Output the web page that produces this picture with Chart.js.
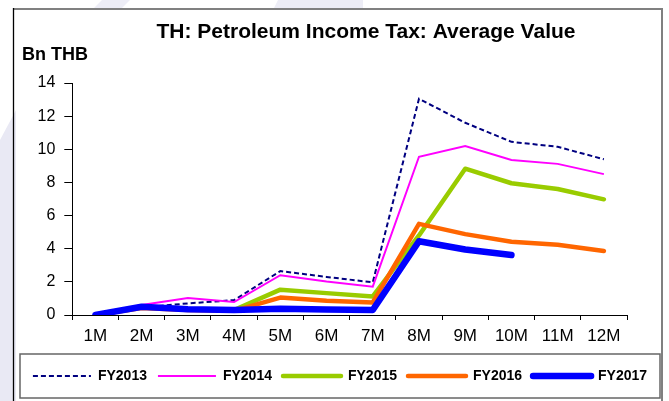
<!DOCTYPE html>
<html>
<head>
<meta charset="utf-8">
<title>TH: Petroleum Income Tax: Average Value</title>
<script src="https://cdn.jsdelivr.net/npm/chart.js@4.4.1/dist/chart.umd.min.js"></script>
<style>
    html, body { margin: 0; padding: 0; background: #ffffff; }
    #wrap { position: relative; width: 669px; height: 401px; }
</style>
</head>
<body>
<div id="wrap"><canvas id="pit" width="669" height="401"></canvas></div>
<script>
// Average monthly value, Bn THB, by fiscal year
const months = ['1M', '2M', '3M', '4M', '5M', '6M', '7M', '8M', '9M', '10M', '11M', '12M'];
const fy2013 = [0, 0.45, 0.7, 0.9, 2.65, 2.3, 1.97, 13.05, 11.6, 10.45, 10.15, 9.4];
const fy2014 = [0, 0.6, 1.03, 0.78, 2.4, 2.02, 1.71, 9.55, 10.2, 9.35, 9.12, 8.5];
const fy2015 = [0, 0.45, 0.35, 0.3, 1.53, 1.32, 1.12, 4.8, 8.83, 7.95, 7.6, 6.98];
const fy2016 = [0, 0.42, 0.3, 0.25, 1.05, 0.86, 0.76, 5.5, 4.88, 4.42, 4.24, 3.86];
const fy2017 = [0, 0.5, 0.35, 0.3, 0.38, 0.33, 0.3, 4.45, 3.95, 3.62, null, null];
const yTicks = [0, 2, 4, 6, 8, 10, 12, 14];

const chartTitle = 'TH: Petroleum Income Tax: Average Value';
const unitLabel = 'Bn THB';
const FONT = 'Arial, "Liberation Sans", sans-serif';

// later fiscal years sit on top of the earlier ones
function lineSet(label, data, color, width, order, dash) {
    return {
        label: label,
        data: data,
        order: order,
        borderColor: color,
        backgroundColor: color,
        borderWidth: width,
        borderDash: dash || [],
        borderCapStyle: width > 3 ? 'round' : 'butt',
        borderJoinStyle: width > 3 ? 'round' : 'miter',
        pointRadius: 0,
        pointHoverRadius: 0,
        pointStyle: 'line',
        tension: 0,
        spanGaps: false
    };
}

// frame, watermark, title and legend box
const framePlugin = {
    id: 'frame',
    beforeDraw(chart) {
        const ctx = chart.ctx;
        ctx.save();
        ctx.fillStyle = '#e9e9f4';
        // left strip with a slanted top edge
        ctx.beginPath();
        ctx.moveTo(0, 140); ctx.lineTo(16, 110); ctx.lineTo(16, 401); ctx.lineTo(0, 401);
        ctx.closePath(); ctx.fill();
        // faint slanted bands above the frame
        ctx.fillStyle = '#ededf6';
        ctx.beginPath();
        ctx.moveTo(92, 10); ctx.lineTo(102, 0); ctx.lineTo(130, 0); ctx.lineTo(120, 10);
        ctx.closePath(); ctx.fill();
        ctx.beginPath();
        ctx.moveTo(273, 10); ctx.lineTo(278, 0); ctx.lineTo(363, 0); ctx.lineTo(363, 10);
        ctx.closePath(); ctx.fill();

        ctx.strokeStyle = '#808080';
        ctx.lineWidth = 2;
        ctx.beginPath();
        ctx.moveTo(13, 9); ctx.lineTo(662, 9); ctx.lineTo(662, 401);
        ctx.stroke();
        ctx.strokeStyle = '#000000';
        ctx.lineWidth = 1.3;
        ctx.beginPath();
        ctx.moveTo(13.5, 8); ctx.lineTo(13.5, 401);
        ctx.stroke();
        ctx.restore();
    },
    afterDraw(chart) {
        const ctx = chart.ctx;
        ctx.save();
        ctx.fillStyle = '#000000';
        ctx.textBaseline = 'alphabetic';
        ctx.font = 'bold 21px ' + FONT;
        ctx.textAlign = 'center';
        ctx.fillText(chartTitle, 366, 38);
        ctx.font = 'bold 18px ' + FONT;
        ctx.textAlign = 'left';
        ctx.fillText(unitLabel, 22, 60);

        const lg = chart.legend;
        ctx.strokeStyle = '#666666';
        ctx.lineWidth = 1.5;
        ctx.strokeRect(lg.left, lg.top - 4, lg.right - lg.left, lg.bottom - lg.top + 9);
        ctx.restore();
    }
};

// legend samples take dash and caps from the line, not from the point
function legendLabels(chart) {
    const items = Chart.defaults.plugins.legend.labels.generateLabels(chart);
    items.forEach(item => {
        const ds = chart.data.datasets[item.datasetIndex];
        item.lineDash = ds.borderDash;
        item.lineCap = ds.borderCapStyle;
        item.lineWidth = ds.borderWidth;
    });
    return items;
}

new Chart(document.getElementById('pit'), {
    type: 'line',
    data: {
        labels: months,
        datasets: [
            lineSet('FY2013', fy2013, '#000080', 2, 5, [5, 3]),
            lineSet('FY2014', fy2014, '#ff00ff', 2, 4),
            lineSet('FY2015', fy2015, '#99cc00', 4.5, 3),
            lineSet('FY2016', fy2016, '#ff6600', 4.5, 2),
            lineSet('FY2017', fy2017, '#0000ff', 6.5, 1)
        ]
    },
    options: {
        responsive: false,
        animation: false,
        devicePixelRatio: 1,
        layout: { padding: { left: 20, right: 9, top: 83, bottom: 8 } },
        plugins: {
            title: { display: false },
            tooltip: { enabled: false },
            legend: {
                display: true,
                position: 'bottom',
                labels: {
                    usePointStyle: true,
                    pointStyleWidth: 58,
                    padding: 11,
                    color: '#000000',
                    font: { family: FONT, size: 14, weight: 'bold' },
                    generateLabels: legendLabels,
                    sort: (a, b) => a.datasetIndex - b.datasetIndex
                }
            }
        },
        scales: {
            x: {
                offset: true,
                grid: {
                    offset: true,
                    drawOnChartArea: false,
                    tickLength: 5,
                    tickColor: '#000000'
                },
                border: { color: '#000000', width: 1 },
                ticks: {
                    color: '#000000',
                    padding: 6,
                    maxRotation: 0,
                    autoSkip: false,
                    font: { family: FONT, size: 17 }
                },
                afterFit(scale) { scale.height = 43; }
            },
            y: {
                min: 0,
                max: 14,
                afterBuildTicks(scale) { scale.ticks = yTicks.map(v => ({ value: v })); },
                grid: {
                    drawOnChartArea: false,
                    tickLength: 8,
                    tickColor: '#000000'
                },
                border: { color: '#000000', width: 1 },
                ticks: {
                    color: '#000000',
                    padding: 9,
                    font: { family: FONT, size: 16 }
                },
                afterFit(scale) { scale.width = 52.3; }
            },
            // empty right-hand axis, only reserves room on the right
            spacer: {
                position: 'right',
                display: true,
                grid: { display: false },
                border: { display: false },
                ticks: { display: false },
                afterFit(scale) { scale.width = 33; }
            }
        }
    },
    plugins: [framePlugin]
});
</script>
</body>
</html>
